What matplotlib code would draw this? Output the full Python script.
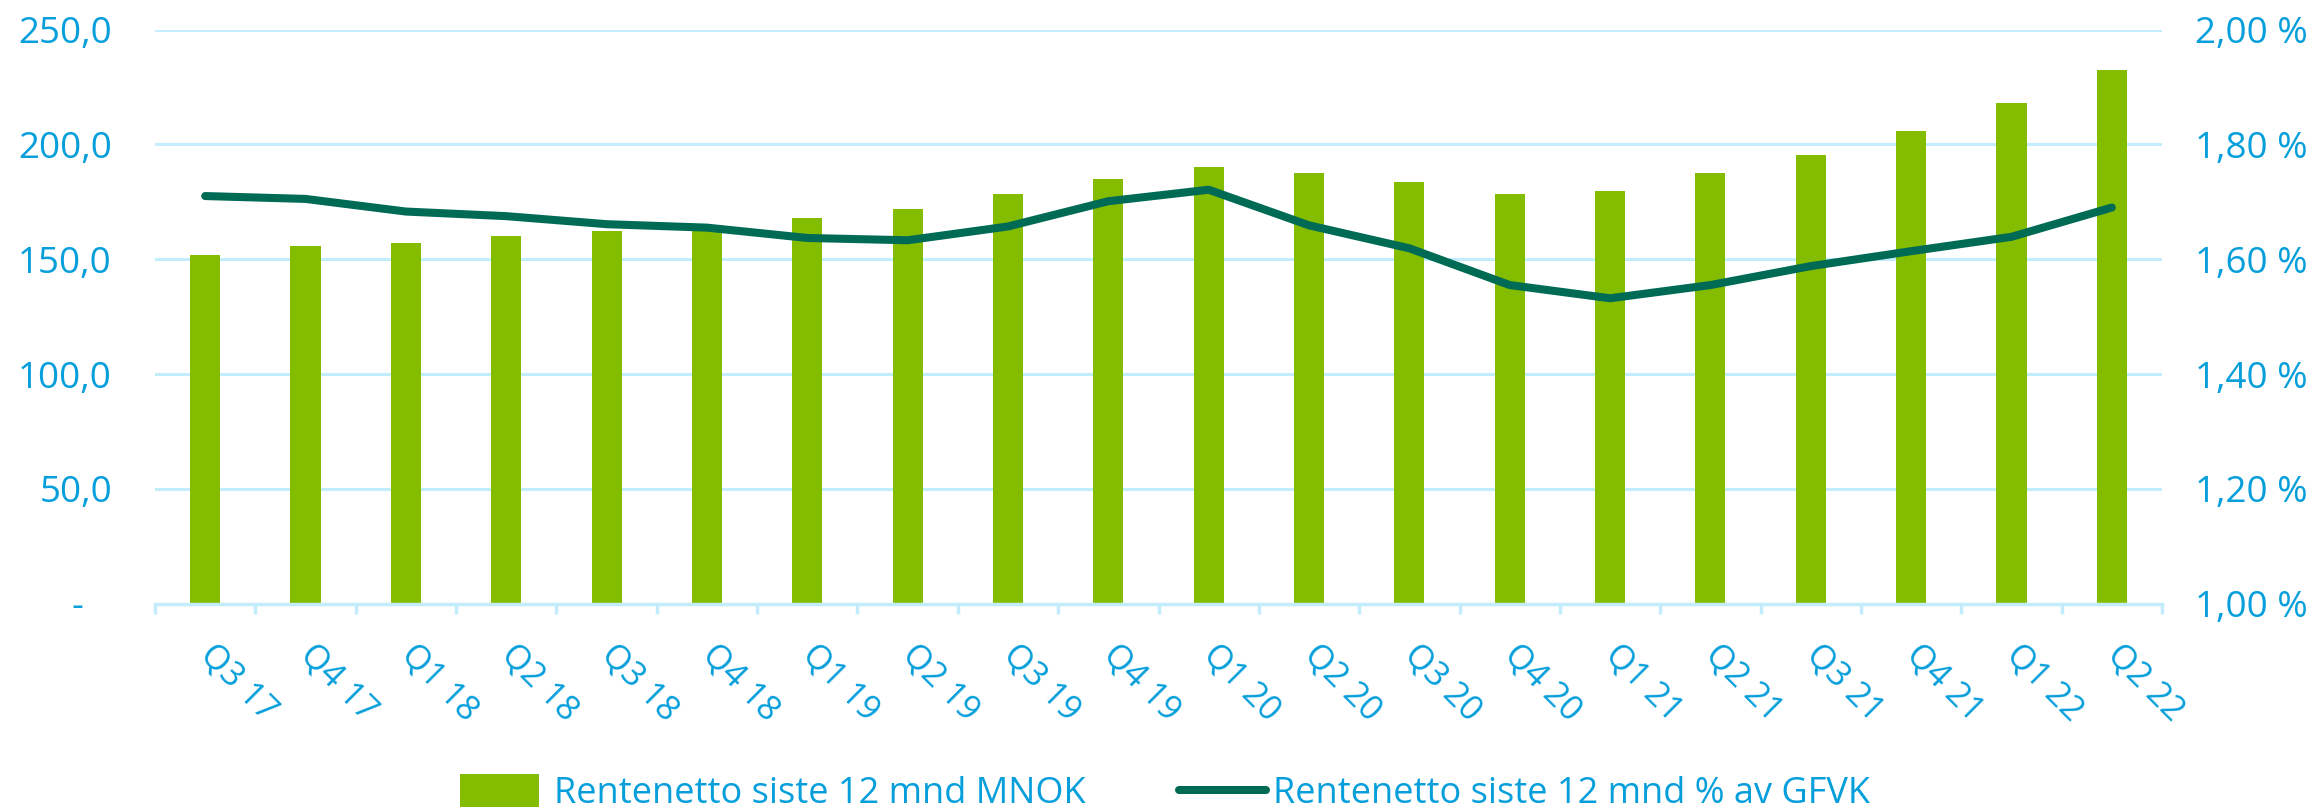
import matplotlib
matplotlib.use("Agg")
import matplotlib.pyplot as plt
from matplotlib.patches import Rectangle, Patch
from matplotlib.lines import Line2D
from matplotlib.legend_handler import HandlerPatch
import numpy as np

categories = ["Q3 17", "Q4 17", "Q1 18", "Q2 18", "Q3 18", "Q4 18", "Q1 19", "Q2 19",
              "Q3 19", "Q4 19", "Q1 20", "Q2 20", "Q3 20", "Q4 20", "Q1 21", "Q2 21",
              "Q3 21", "Q4 21", "Q1 22", "Q2 22"]
rentenetto_mnok = [151.8, 155.9, 157.2, 159.9, 162.5, 165.0, 167.8, 171.7, 178.5, 184.8,
                   190.0, 187.4, 183.6, 178.4, 179.6, 187.4, 195.3, 206.0, 217.9, 232.4]
rentenetto_pct = [1.710, 1.705, 1.683, 1.675, 1.661, 1.655, 1.637, 1.633, 1.657, 1.701,
                  1.721, 1.659, 1.619, 1.555, 1.532, 1.555, 1.588, 1.614, 1.639, 1.690]
left_ticks = [0, 50, 100, 150, 200, 250]
left_labels = ["-   ", "50,0", "100,0", "150,0", "200,0", "250,0"]
right_ticks = [1.0, 1.2, 1.4, 1.6, 1.8, 2.0]
right_labels = ["1,00 %", "1,20 %", "1,40 %", "1,60 %", "1,80 %", "2,00 %"]
legend_labels = ["Rentenetto siste 12 mnd MNOK", "Rentenetto siste 12 mnd % av GFVK"]

BAR = "#84BC00"
LINE = "#006B55"
TXT = "#069FDB"
GRID = "#C3EDFC"

plt.rcParams["font.family"] = ["Open Sans", "DejaVu Sans"]

W, H = 2313, 809
fig = plt.figure(figsize=(W / 100, H / 100), dpi=100)
ax = fig.add_axes([155 / W, 1 - 603.8 / H, (2162 - 155) / W, (603.8 - 29.5) / H])

x = np.arange(len(categories))
ax.bar(x, rentenetto_mnok, width=0.3, color=BAR, zorder=2)
ax.set_xlim(-0.5, len(categories) - 0.5)
ax.set_ylim(0, 250)
ax.set_yticks(left_ticks)
ax.set_yticklabels(left_labels)
ax.set_axisbelow(True)
ax.yaxis.grid(True, color=GRID, linewidth=2.2)
for s in ["left", "right", "top"]:
    ax.spines[s].set_visible(False)
ax.spines["bottom"].set_color(GRID)
ax.spines["bottom"].set_linewidth(2.5)
ax.tick_params(axis="y", length=0, pad=31, labelsize=26.5, labelcolor=TXT)

ax.set_xticks(x)
ax.set_xticklabels(categories, rotation=-45, ha="left", va="center", rotation_mode="anchor")
ax.tick_params(axis="x", which="major", length=0, pad=33, labelsize=24.5, labelcolor=TXT)
ax.set_xticks(np.arange(-0.5, len(categories)), minor=True)
ax.tick_params(axis="x", which="minor", length=7, width=2.5, color=GRID)

ax2 = ax.twinx()
ax2.plot(x, rentenetto_pct, color=LINE, linewidth=5.8, solid_capstyle="round",
         solid_joinstyle="round", zorder=3)
ax2.set_ylim(1.0, 2.0)
ax2.set_yticks(right_ticks)
ax2.set_yticklabels(right_labels)
for s in ["left", "right", "top", "bottom"]:
    ax2.spines[s].set_visible(False)
ax2.tick_params(axis="y", length=0, pad=24, labelsize=26.5, labelcolor=TXT)


class SquareHandler(HandlerPatch):
    def create_artists(self, legend, orig_handle, xdescent, ydescent, width, height,
                       fontsize, trans):
        r = Rectangle((-xdescent, -ydescent - 0.15 * height), width * 0.91, height * 1.3,
                      facecolor=orig_handle.get_facecolor(), edgecolor="none",
                      transform=trans)
        return [r]


handles = [Patch(facecolor=BAR), Line2D([0], [0], color=LINE, linewidth=5.8,
                                         solid_capstyle="round")]
leg = fig.legend(handles, legend_labels, loc="center left",
                 bbox_to_anchor=(460 / W, 1 - 794 / H), ncol=2, frameon=False,
                 fontsize=26, handlelength=2.4, handleheight=0.72, handletextpad=0.2,
                 columnspacing=2.6, borderpad=0, borderaxespad=0,
                 handler_map={Patch: SquareHandler()})
for t in leg.get_texts():
    t.set_color(TXT)

fig.savefig("out.png", dpi=100)
